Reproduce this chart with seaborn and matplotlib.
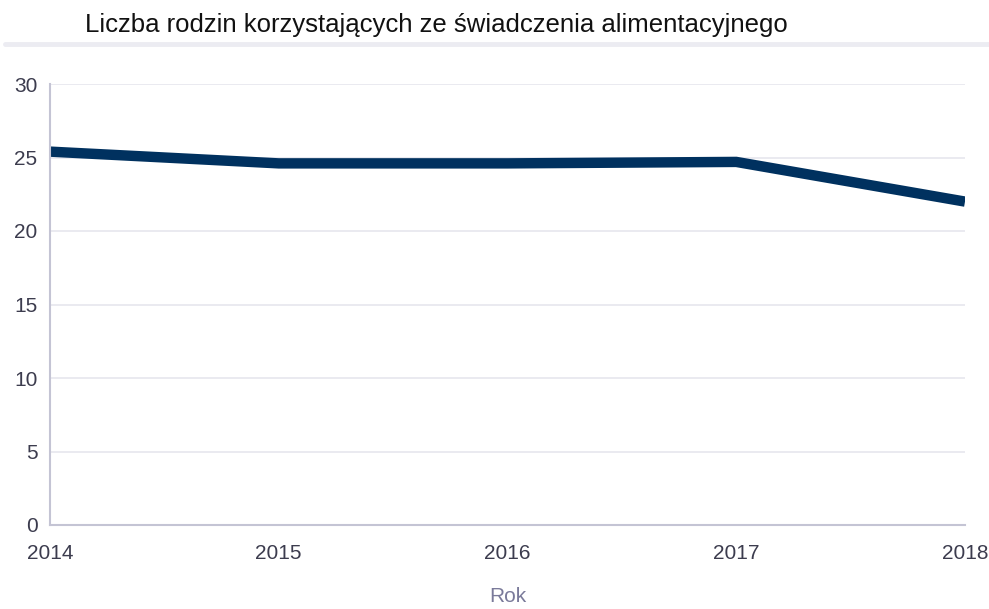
import matplotlib
matplotlib.use("Agg")
import matplotlib.pyplot as plt
import seaborn as sns
import pandas as pd

years = [2014, 2015, 2016, 2017, 2018]
families = [25.4, 24.6, 24.6, 24.7, 22.0]
y_ticks = [0, 5, 10, 15, 20, 25, 30]

title = "Liczba rodzin korzystających ze świadczenia alimentacyjnego"
x_label = "Rok"

sns.set_theme(style="white")
plt.rcParams["font.family"] = ["Liberation Sans", "DejaVu Sans"]

df = pd.DataFrame({"Rok": years, "Liczba": families})

fig = plt.figure(figsize=(9.89, 6.09), dpi=100)
ax = fig.add_axes([50 / 989, (609 - 525) / 609, 915 / 989, 441 / 609])

sns.lineplot(data=df, x="Rok", y="Liczba", ax=ax, color="#00315f",
             linewidth=7.5, solid_capstyle="butt", solid_joinstyle="miter")

ax.set_xlim(years[0], years[-1])
ax.set_ylim(0, 30)
ax.set_xticks(years)
ax.set_xticklabels([str(y) for y in years])
ax.set_yticks(y_ticks)

ax.grid(axis="y", color="#e6e6ee", linewidth=1.2)
ax.set_axisbelow(True)
for side in ("top", "right"):
    ax.spines[side].set_visible(False)
for side in ("left", "bottom"):
    ax.spines[side].set_color("#c4c4d4")
    ax.spines[side].set_linewidth(1.5)

ax.tick_params(axis="both", length=0, labelsize=15, labelcolor="#3c3c4e")
ax.tick_params(axis="x", pad=14)
ax.tick_params(axis="y", pad=9)
ax.set_ylabel("")
ax.set_xlabel(x_label, fontsize=15, color="#7a7a9a", labelpad=17)

fig.text(85 / 989, 1 - 25 / 609, title, fontsize=18.5, color="#111111",
         ha="left", va="center")
fig.add_artist(plt.Line2D([5 / 989, 1.0], [1 - 44 / 609, 1 - 44 / 609],
                          color="#ececf2", linewidth=3.5,
                          transform=fig.transFigure))

fig.savefig("out.png", dpi=100)
